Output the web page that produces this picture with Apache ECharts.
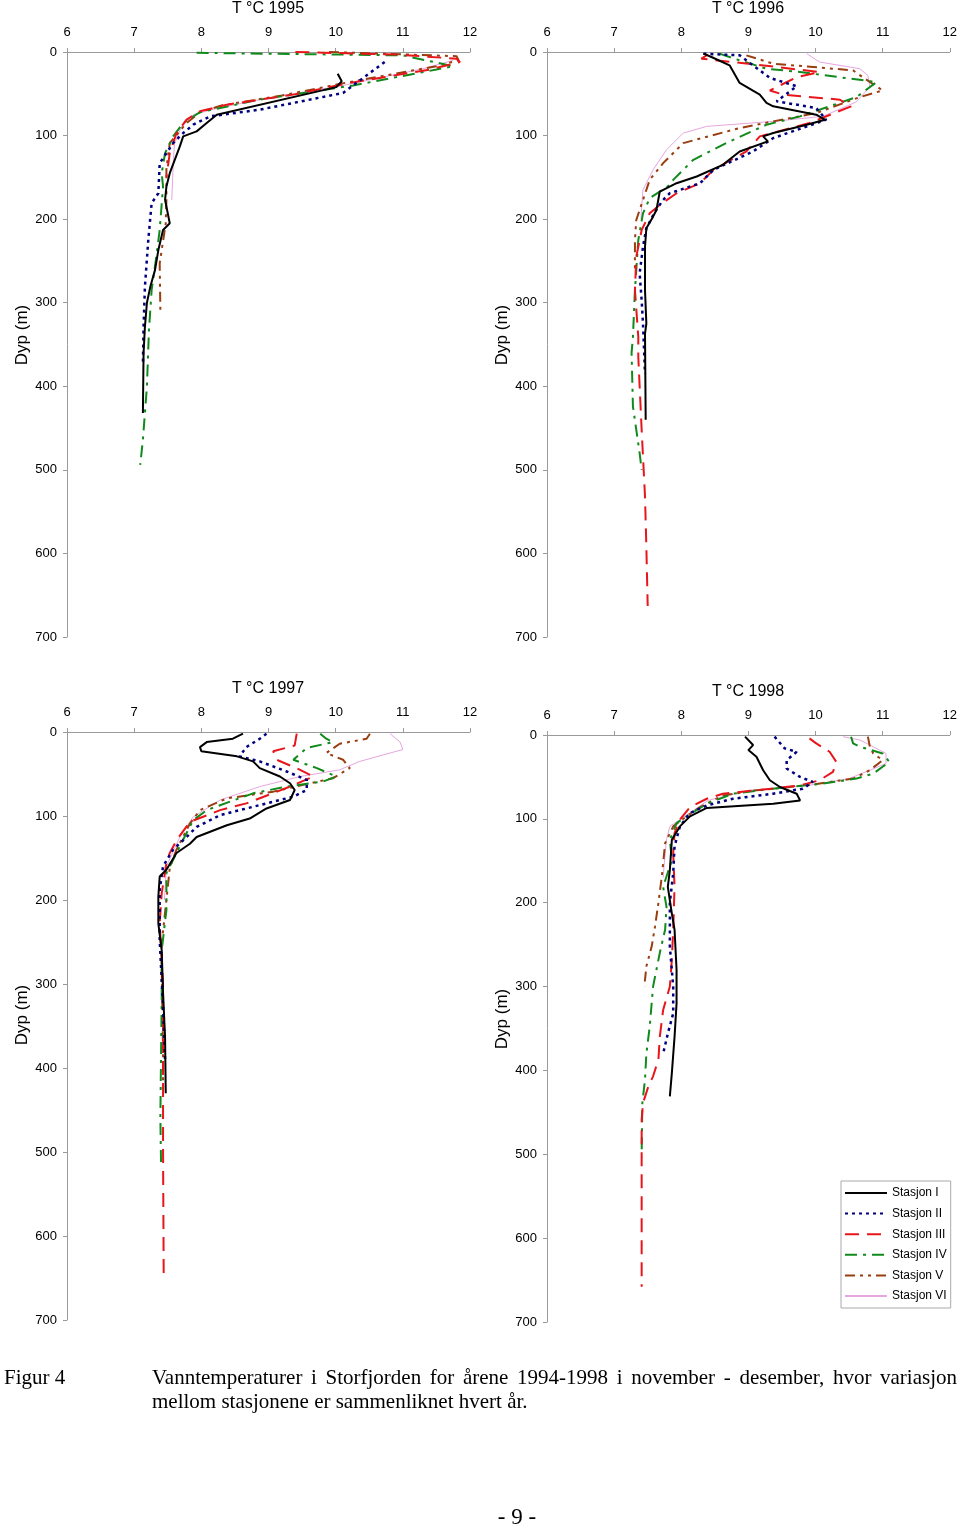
<!DOCTYPE html>
<html><head><meta charset="utf-8">
<script src="https://cdn.jsdelivr.net/npm/echarts@6/dist/echarts.min.js"></script>
<style>html,body{margin:0;padding:0;background:#fff}#c{width:960px;height:1529px}</style>
</head><body><div id="c"></div>
<script>
// ---- categories / labels ----
const years = ['1995', '1996', '1997', '1998'];
const stations = ['Stasjon I', 'Stasjon II', 'Stasjon III', 'Stasjon IV', 'Stasjon V', 'Stasjon VI'];
const xTicks = [6, 7, 8, 9, 10, 11, 12];
const depthTicks = [0, 100, 200, 300, 400, 500, 600, 700];

// ---- data: [temperature °C, depth m] ----
const t1995_I = [[10.03,26],[10.09,35],[10.01,42],[8.23,75],[8.08,85],[7.93,95],[7.73,101],[7.68,113],[7.53,145],[7.48,161],[7.46,177],[7.53,205],[7.43,213],[7.36,237],[7.31,261],[7.24,281],[7.19,300],[7.16,329],[7.14,360],[7.13,432]];
const t1995_II = [[10.73,12],[10.41,31],[10.11,49],[8.87,69],[8.13,77],[7.88,87],[7.73,97],[7.58,109],[7.38,133],[7.36,169],[7.26,181],[7.21,225],[7.16,281],[7.14,329],[7.13,375]];
const t1995_III = [[9.4,0],[10.9,3],[11.8,8],[11.85,12],[11.4,21],[10.21,37],[9.37,51],[8.38,63],[7.98,71],[7.78,81],[7.63,97],[7.53,121],[7.48,150]];
const t1995_IV = [[7.93,1],[11.0,4],[11.75,17],[11.5,21],[10.26,40],[8.87,57],[7.98,72],[7.73,85],[7.58,101],[7.46,121],[7.41,145],[7.43,161],[7.38,213],[7.33,245],[7.26,285],[7.22,333],[7.19,400],[7.16,432],[7.13,464],[7.09,494]];
const t1995_V = [[9.9,0],[11.8,5],[11.83,10],[11.5,17],[10.2,36],[9.2,52],[8.3,64],[7.98,72],[7.78,85],[7.53,109],[7.48,140],[7.48,177],[7.47,205],[7.38,253],[7.39,309]];
const t1995_VI = [[11.75,10],[11.3,20],[10.11,40],[9.0,55],[8.2,68],[7.88,75],[7.7,90],[7.6,110],[7.58,137],[7.56,177]];

const t1996_I = [[8.33,2],[8.45,6],[8.72,16],[8.87,37],[9.17,51],[9.27,61],[9.37,65],[10.01,75],[10.14,81],[9.87,87],[9.37,97],[9.22,101],[9.29,107],[8.87,119],[8.62,135],[8.23,149],[7.93,157],[7.68,167],[7.63,189],[7.58,197],[7.48,211],[7.46,233],[7.46,285],[7.48,325],[7.46,337],[7.47,440]];
const t1996_II = [[8.33,2],[8.87,4],[9.32,31],[9.72,41],[9.42,59],[10.01,67],[10.16,81],[9.37,103],[9.07,119],[8.48,141],[8.28,157],[7.83,169],[7.73,177],[7.61,191],[7.48,211],[7.43,233],[7.38,265],[7.41,297],[7.43,325],[7.46,385]];
const t1996_III = [[8.4,3],[8.3,8],[9.0,14],[10.06,24],[9.72,30],[9.32,46],[9.52,51],[10.36,57],[10.53,65],[9.91,85],[9.17,101],[8.97,119],[8.48,141],[8.28,157],[7.93,169],[7.68,183],[7.53,193],[7.41,213],[7.33,245],[7.31,285],[7.36,341],[7.36,365],[7.38,400],[7.41,452],[7.43,484],[7.46,532],[7.48,592],[7.5,663]];
const t1996_IV = [[8.57,2],[8.87,10],[9.27,20],[9.77,24],[10.91,36],[10.61,54],[9.77,77],[9.27,87],[8.67,109],[8.18,129],[7.88,153],[7.83,159],[7.53,175],[7.43,193],[7.36,225],[7.31,285],[7.28,341],[7.26,360],[7.28,424],[7.38,480],[7.41,500]];
const t1996_V = [[8.97,4],[9.37,14],[10.56,22],[10.7,30],[11.0,46],[10.66,54],[10.01,73],[9.37,83],[8.87,91],[8.03,109],[7.73,133],[7.53,153],[7.43,177],[7.33,201],[7.31,225],[7.31,260]];
const t1996_VI = [[9.87,2],[10.06,12],[10.66,20],[10.78,28],[10.81,42],[10.6,60],[10.11,77],[9.37,83],[8.38,89],[8.03,97],[7.78,117],[7.58,141],[7.43,165],[7.41,185],[7.4,200]];

const t1997_I = [[8.62,2],[8.47,8],[8.08,12],[7.98,18],[8.0,23],[8.53,29],[8.77,35],[8.87,43],[9.17,53],[9.32,61],[9.39,69],[9.32,81],[8.97,91],[8.72,103],[8.38,111],[7.93,125],[7.83,133],[7.63,144],[7.48,164],[7.38,172],[7.36,196],[7.36,228],[7.41,260],[7.43,311],[7.46,363],[7.47,430]];
const t1997_II = [[8.97,2],[8.87,8],[8.67,18],[8.57,29],[8.87,35],[9.27,47],[9.57,57],[9.57,69],[9.37,77],[8.77,89],[8.28,99],[7.93,113],[7.78,125],[7.58,140],[7.43,160],[7.38,188],[7.38,248],[7.43,327],[7.46,390]];
const t1997_III = [[9.42,2],[9.39,16],[9.07,23],[9.12,33],[9.47,45],[9.67,53],[9.32,65],[8.67,85],[8.28,93],[7.83,107],[7.63,129],[7.53,144],[7.48,156],[7.41,192],[7.38,228],[7.43,300],[7.43,418],[7.43,498],[7.44,652]];
const t1997_IV = [[9.77,2],[9.86,8],[9.96,12],[9.57,19],[9.37,33],[9.72,43],[10.01,53],[9.81,59],[9.27,65],[8.77,73],[8.08,93],[7.88,105],[7.73,128],[7.58,152],[7.48,168],[7.48,212],[7.41,260],[7.41,319],[7.4,386],[7.39,458],[7.4,513]];
const t1997_V = [[10.51,2],[10.46,8],[10.06,14],[9.86,25],[10.11,33],[10.21,43],[9.96,55],[9.07,71],[8.38,79],[7.98,93],[7.83,109],[7.63,140],[7.53,162],[7.48,200],[7.41,252],[7.41,280],[7.43,379],[7.43,426]];
const t1997_VI = [[10.81,2],[10.96,12],[11.0,21],[10.81,25],[10.36,35],[10.06,45],[9.47,53],[8.87,65],[8.28,81],[7.88,101],[7.68,125],[7.48,160],[7.45,200]];

const t1998_I = [[8.95,2],[9.07,12],[9.0,18],[9.12,26],[9.22,42],[9.32,54],[9.47,62],[9.72,70],[9.77,78],[9.37,82],[8.38,87],[8.13,97],[7.98,109],[7.86,125],[7.83,161],[7.8,181],[7.86,213],[7.9,232],[7.93,280],[7.93,320],[7.9,360],[7.86,403],[7.83,431]];
const t1998_II = [[9.39,2],[9.54,16],[9.72,20],[9.57,30],[9.57,40],[9.77,50],[9.96,56],[9.81,64],[9.37,70],[8.77,76],[8.38,84],[8.13,93],[7.98,109],[7.9,133],[7.88,165],[7.83,200],[7.83,252],[7.88,300],[7.88,332],[7.8,356],[7.73,380]];
const t1998_III = [[9.91,4],[10.01,10],[10.21,20],[10.31,32],[10.26,44],[10.06,54],[9.77,60],[9.12,66],[8.62,70],[8.38,76],[8.13,86],[7.98,101],[7.9,117],[7.88,141],[7.9,181],[7.88,232],[7.86,268],[7.83,300],[7.73,328],[7.68,360],[7.66,387],[7.58,407],[7.51,419],[7.43,439],[7.41,459],[7.41,538],[7.41,658]];
const t1998_IV = [[10.53,2],[10.56,10],[10.66,14],[11.0,22],[11.1,32],[10.86,46],[10.61,52],[10.11,58],[9.37,64],[8.77,70],[8.38,82],[8.08,97],[7.93,105],[7.83,125],[7.86,149],[7.73,181],[7.78,205],[7.76,232],[7.68,260],[7.58,300],[7.53,348],[7.48,380],[7.46,411],[7.42,439],[7.41,499]];
const t1998_V = [[10.78,2],[10.81,14],[10.86,22],[11.0,30],[10.81,42],[10.56,52],[9.87,60],[9.12,66],[8.62,72],[8.28,86],[8.08,97],[7.88,109],[7.76,129],[7.71,169],[7.66,200],[7.61,228],[7.56,252],[7.48,276],[7.45,300]];
const t1998_VI = [[10.41,2],[10.66,6],[10.86,14],[11.05,22],[11.05,34],[10.81,42],[10.5,52],[9.9,60],[9.0,66],[8.4,78],[7.98,101],[7.83,109],[7.78,125],[7.76,141],[7.73,170]];

const panelData = [
  [t1995_I, t1995_II, t1995_III, t1995_IV, t1995_V, t1995_VI],
  [t1996_I, t1996_II, t1996_III, t1996_IV, t1996_V, t1996_VI],
  [t1997_I, t1997_II, t1997_III, t1997_IV, t1997_V, t1997_VI],
  [t1998_I, t1998_II, t1998_III, t1998_IV, t1998_V, t1998_VI]
];

// ---- styles ----
const stationStyles = [
  {color: '#000000', width: 2, type: 'solid'},
  {color: '#000080', width: 2.5, type: [3, 4]},
  {color: '#e8151b', width: 2, type: [14, 8]},
  {color: '#118a1c', width: 2, type: [12, 6, 3, 6]},
  {color: '#9a3d10', width: 2, type: [10, 5, 3, 5, 3, 5]},
  {color: '#e6a6e0', width: 1, type: 'solid'}
];
const grids = [
  {left: 67, top: 52, width: 403, height: 585},
  {left: 547, top: 52, width: 403, height: 585},
  {left: 67, top: 732, width: 403, height: 588},
  {left: 547, top: 735, width: 403, height: 587}
];
const titlePos = [[268, 9], [748, 9], [268, 689], [748, 692]];
const yNamePos = [[22, 335], [502, 335], [22, 1015], [502, 1019]];
const FONT = 'Liberation Sans, Arial, sans-serif';
const SERIF = 'Liberation Serif, Times New Roman, serif';
const AX = '#9a9a9a';

const option = {
  backgroundColor: '#fff',
  animation: false,
  grid: grids,
  xAxis: grids.map((g, i) => ({
    gridIndex: i, type: 'value', position: 'top', min: xTicks[0], max: xTicks[xTicks.length - 1], interval: 1,
    axisLine: {show: true, onZero: false, lineStyle: {color: AX, width: 1}},
    axisTick: {show: true, length: 4, lineStyle: {color: AX}},
    splitLine: {show: false},
    axisLabel: {color: '#000', fontSize: 13, fontFamily: FONT, margin: 13}
  })),
  yAxis: grids.map((g, i) => ({
    gridIndex: i, type: 'value', inverse: true, min: depthTicks[0], max: depthTicks[depthTicks.length - 1], interval: 100,
    axisLine: {show: true, onZero: false, lineStyle: {color: AX, width: 1}},
    axisTick: {show: true, length: 4, lineStyle: {color: AX}},
    splitLine: {show: false},
    axisLabel: {color: '#000', fontSize: 13, fontFamily: FONT, margin: 10}
  })),
  legend: {
    data: stations, orient: 'vertical', left: 841, top: 1181,
    itemWidth: 42, itemHeight: 12, itemGap: 8.6,
    padding: [6, 4, 6, 3],
    borderColor: '#aaa', borderWidth: 1, backgroundColor: '#fff',
    itemStyle: {opacity: 0, borderWidth: 0},
    textStyle: {color: '#000', fontSize: 12, fontFamily: FONT},
    selectedMode: false
  },
  series: [],
  graphic: []
};

panelData.forEach((arr, p) => {
  arr.forEach((d, s) => {
    const st = stationStyles[s];
    option.series.push({
      name: stations[s], type: 'line', xAxisIndex: p, yAxisIndex: p,
      data: d, symbol: 'none', showSymbol: false, smooth: false,
      z: 10 - s,
      itemStyle: {color: st.color},
      lineStyle: {color: st.color, width: st.width, type: st.type}
    });
  });
  option.graphic.push({
    type: 'text', x: titlePos[p][0], y: titlePos[p][1],
    style: {text: 'T °C ' + years[p], fill: '#000', font: '16px ' + FONT, textAlign: 'center', textVerticalAlign: 'middle'}
  });
  option.graphic.push({
    type: 'text', x: yNamePos[p][0], y: yNamePos[p][1], rotation: Math.PI / 2,
    style: {text: 'Dyp (m)', fill: '#000', font: '17px ' + FONT, textAlign: 'center', textVerticalAlign: 'middle'}
  });
});

// caption (first line justified between x=152 and x=957)
const captionLine1 = 'Vanntemperaturer i Storfjorden for årene 1994-1998 i november - desember, hvor variasjon';
const captionLine2 = 'mellom stasjonene er sammenliknet hvert år.';
const capFont = '21px ' + SERIF;
const mctx = document.createElement('canvas').getContext('2d');
mctx.font = capFont;
const words = captionLine1.split(' ');
const widths = words.map(w => mctx.measureText(w).width);
const sumW = widths.reduce((a, b) => a + b, 0);
const gapW = (957 - 152 - sumW) / (words.length - 1);
let cx = 152;
words.forEach((w, i) => {
  option.graphic.push({type: 'text', x: cx, y: 1378, style: {text: w, fill: '#000', font: capFont, textVerticalAlign: 'middle'}});
  cx += widths[i] + gapW;
});
option.graphic.push(
  {type: 'text', x: 4, y: 1378, style: {text: 'Figur 4', fill: '#000', font: capFont, textVerticalAlign: 'middle'}},
  {type: 'text', x: 152, y: 1402, style: {text: captionLine2, fill: '#000', font: capFont, textVerticalAlign: 'middle'}},
  {type: 'text', x: 517, y: 1518, style: {text: '- 9 -', fill: '#000', font: '23px ' + SERIF, textAlign: 'center', textVerticalAlign: 'middle'}}
);

const chart = echarts.init(document.getElementById('c'), null, {renderer: 'canvas'});
chart.setOption(option);
</script>
</body></html>
